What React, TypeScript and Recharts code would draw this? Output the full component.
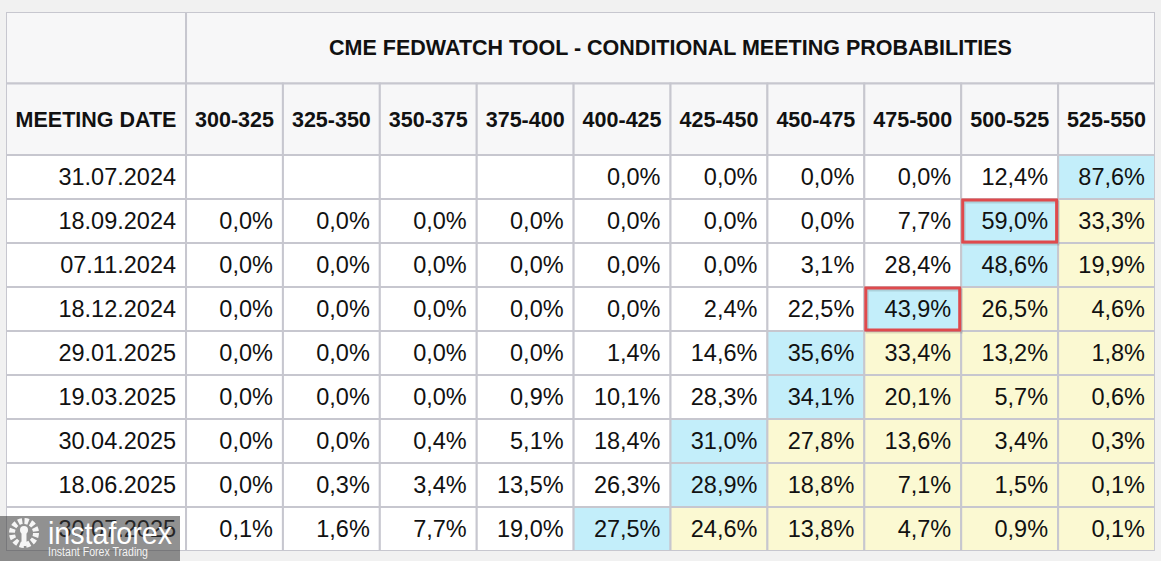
import React from 'react';
import { ScatterChart, Scatter, XAxis, YAxis } from 'recharts';

const TITLE = 'CME FEDWATCH TOOL - CONDITIONAL MEETING PROBABILITIES';
const DATE_HEADER = 'MEETING DATE';

const rateRanges = [
  '300-325', '325-350', '350-375', '375-400', '400-425',
  '425-450', '450-475', '475-500', '500-525', '525-550',
];

const meetingDates = [
  '31.07.2024', '18.09.2024', '07.11.2024', '18.12.2024', '29.01.2025',
  '19.03.2025', '30.04.2025', '18.06.2025', '30.07.2025',
];

// one row per meeting, one value per rate range (null = not quoted)
const probabilities: (number | null)[][] = [
  [null, null, null, null, 0.0, 0.0, 0.0, 0.0, 12.4, 87.6],
  [0.0, 0.0, 0.0, 0.0, 0.0, 0.0, 0.0, 7.7, 59.0, 33.3],
  [0.0, 0.0, 0.0, 0.0, 0.0, 0.0, 3.1, 28.4, 48.6, 19.9],
  [0.0, 0.0, 0.0, 0.0, 0.0, 2.4, 22.5, 43.9, 26.5, 4.6],
  [0.0, 0.0, 0.0, 0.0, 1.4, 14.6, 35.6, 33.4, 13.2, 1.8],
  [0.0, 0.0, 0.0, 0.9, 10.1, 28.3, 34.1, 20.1, 5.7, 0.6],
  [0.0, 0.0, 0.4, 5.1, 18.4, 31.0, 27.8, 13.6, 3.4, 0.3],
  [0.0, 0.3, 3.4, 13.5, 26.3, 28.9, 18.8, 7.1, 1.5, 0.1],
  [0.1, 1.6, 7.7, 19.0, 27.5, 24.6, 13.8, 4.7, 0.9, 0.1],
];

// [row, column] of the cells boxed in red
const markedCells = [
  [1, 8],
  [3, 7],
];

const WIDTH = 1161;
const HEIGHT = 561;
const MARGIN = { top: 12, right: 6, bottom: 10, left: 6 };
const DATE_SPAN = 1.858;  // date column, in rate-column units
const HEAD_SPAN = 1.625;  // header row, in data-row units
const X_DOMAIN: [number, number] = [-DATE_SPAN, rateRanges.length];
const Y_DOMAIN: [number, number] = [0, 2 * HEAD_SPAN + meetingDates.length];
const PX_X = (WIDTH - MARGIN.left - MARGIN.right) / (X_DOMAIN[1] - X_DOMAIN[0]);
const PX_Y = (HEIGHT - MARGIN.top - MARGIN.bottom) / (Y_DOMAIN[1] - Y_DOMAIN[0]);

const FONT = '"Liberation Sans", Arial, sans-serif';
const BORDER = '#c7c7cf';
const HEAD_BG = '#f7f7f8';
const BLUE = '#c3eefa';
const YELLOW = '#fbf9d2';
const RED = '#df4a4d';

type Kind = 'head' | 'date' | 'value';
interface CellDatum {
  x: number; y: number; w: number; h: number;
  kind: Kind; text: string; fill: string;
}

const fmt = (v: number) => v.toFixed(1).replace('.', ',') + '%';

function buildCells(): CellDatum[] {
  const cells: CellDatum[] = [];
  const dateX = -DATE_SPAN / 2;
  cells.push({ x: dateX, y: HEAD_SPAN / 2, w: DATE_SPAN, h: HEAD_SPAN, kind: 'head', text: '', fill: HEAD_BG });
  cells.push({ x: rateRanges.length / 2, y: HEAD_SPAN / 2, w: rateRanges.length, h: HEAD_SPAN, kind: 'head', text: TITLE, fill: HEAD_BG });
  cells.push({ x: dateX, y: HEAD_SPAN * 1.5, w: DATE_SPAN, h: HEAD_SPAN, kind: 'head', text: DATE_HEADER, fill: HEAD_BG });
  rateRanges.forEach((r, i) => {
    cells.push({ x: i + 0.5, y: HEAD_SPAN * 1.5, w: 1, h: HEAD_SPAN, kind: 'head', text: r, fill: HEAD_BG });
  });
  meetingDates.forEach((d, r) => {
    const y = 2 * HEAD_SPAN + r + 0.5;
    cells.push({ x: dateX, y, w: DATE_SPAN, h: 1, kind: 'date', text: d, fill: '#ffffff' });
    const row = probabilities[r];
    let top = 0;
    row.forEach((v, c) => {
      if (v != null && v > (row[top] ?? -1)) top = c;
    });
    row.forEach((v, c) => {
      const fill = c === top ? BLUE : c > top ? YELLOW : '#ffffff';
      cells.push({ x: c + 0.5, y, w: 1, h: 1, kind: 'value', text: v == null ? '' : fmt(v), fill });
    });
  });
  return cells;
}

const cells = buildCells();
const marks = markedCells.map(([r, c]) => ({ x: c + 0.5, y: 2 * HEAD_SPAN + r + 0.5 }));

function TableCell(props: any) {
  const { cx, cy, payload } = props;
  const d = payload as CellDatum;
  const w = d.w * PX_X;
  const h = d.h * PX_Y;
  const left = cx - w / 2;
  const top = cy - h / 2;
  const isHead = d.kind === 'head';
  return (
    <g>
      <rect x={left} y={top} width={w} height={h} fill={d.fill} stroke={BORDER} strokeWidth={2} />
      {d.text && (
        <text
          x={isHead ? cx : left + w - 10}
          y={cy + (isHead ? 7.7 : 8.4)}
          textAnchor={isHead ? 'middle' : 'end'}
          fontFamily={FONT}
          fontSize={isHead ? 21.5 : 23.5}
          fontWeight={isHead ? 700 : 400}
          fill="#111111"
        >
          {d.text}
        </text>
      )}
    </g>
  );
}

function MarkBox(props: any) {
  const { cx, cy } = props;
  const w = PX_X - 3;
  const h = PX_Y - 2;
  return (
    <g>
      <rect x={cx - w / 2 + 1.5} y={cy - h / 2 + 2} width={w} height={h} fill="none" stroke="rgba(0,0,0,0.12)" strokeWidth={3} />
      <rect x={cx - w / 2} y={cy - h / 2} width={w} height={h} fill="none" stroke={RED} strokeWidth={3} />
    </g>
  );
}

function Watermark() {
  return (
    <svg width={182} height={46} style={{ position: 'absolute', left: 0, top: 516 }}>
      <rect x={0} y={0} width={180} height={46} fill="rgba(55,55,55,0.55)" />
      <g fill="#ffffff" opacity={0.92}>
        <circle cx={24} cy={17} r={12} fill="none" stroke="#ffffff" strokeWidth={6} strokeDasharray="4 2.3" />
        <circle cx={24} cy={14} r={4} />
        <rect x={21.5} y={17} width={5} height={13} />
      </g>
      <text x={48} y={28} fontFamily={FONT} fontSize={31} fontWeight={300} fill="#ffffff" textLength={124} lengthAdjust="spacingAndGlyphs">
        instaforex
      </text>
      <text x={48} y={39.5} fontFamily={FONT} fontSize={12} fill="#ffffff" opacity={0.9} textLength={100} lengthAdjust="spacingAndGlyphs">
        Instant Forex Trading
      </text>
    </svg>
  );
}

export default function App() {
  return (
    <div style={{ position: 'absolute', left: 0, top: 0, width: WIDTH, height: HEIGHT, background: '#f1f1f1', overflow: 'hidden' }}>
      <ScatterChart width={WIDTH} height={HEIGHT} margin={MARGIN}>
        <XAxis type="number" dataKey="x" domain={X_DOMAIN} allowDataOverflow hide />
        <YAxis type="number" dataKey="y" domain={Y_DOMAIN} allowDataOverflow reversed hide />
        <Scatter data={cells} shape={TableCell} isAnimationActive={false} />
        <Scatter data={marks} shape={MarkBox} isAnimationActive={false} />
      </ScatterChart>
      <Watermark />
    </div>
  );
}
